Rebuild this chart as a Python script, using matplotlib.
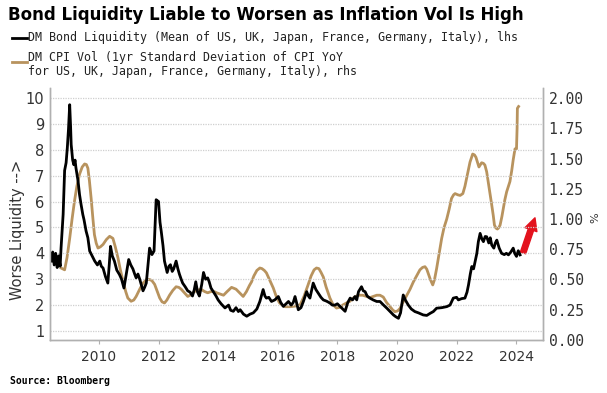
import matplotlib
matplotlib.use('Agg')
import matplotlib.pyplot as plt

# DM bond liquidity (lhs)
liq_years = [2008.40, 2008.45, 2008.50, 2008.55, 2008.60, 2008.65, 2008.70, 2008.73, 2008.80, 2008.85,
             2008.90, 2008.94, 2008.98, 2009.02, 2009.05, 2009.07, 2009.12, 2009.16, 2009.20, 2009.23,
             2009.30, 2009.35, 2009.40, 2009.46, 2009.50, 2009.57, 2009.63, 2009.69, 2009.75, 2009.86,
             2009.95, 2010.03, 2010.08, 2010.14, 2010.22, 2010.30, 2010.35, 2010.39, 2010.45, 2010.52,
             2010.60, 2010.69, 2010.76, 2010.84, 2010.92, 2011.00, 2011.07, 2011.14, 2011.20, 2011.25,
             2011.31, 2011.37, 2011.43, 2011.48, 2011.54, 2011.59, 2011.65, 2011.70, 2011.78, 2011.85,
             2011.92, 2012.00, 2012.05, 2012.09, 2012.15, 2012.20, 2012.25, 2012.29, 2012.35, 2012.40,
             2012.46, 2012.51, 2012.59, 2012.65, 2012.70, 2012.76, 2012.81, 2012.90, 2012.98, 2013.06,
             2013.14, 2013.20, 2013.25, 2013.31, 2013.37, 2013.45, 2013.51, 2013.58, 2013.65, 2013.70,
             2013.76, 2013.85, 2013.93, 2014.00, 2014.10, 2014.23, 2014.35, 2014.42, 2014.51, 2014.60,
             2014.68, 2014.74, 2014.85, 2014.96, 2015.07, 2015.18, 2015.30, 2015.40, 2015.51, 2015.57,
             2015.62, 2015.70, 2015.79, 2015.90, 2016.02, 2016.10, 2016.19, 2016.28, 2016.36, 2016.45,
             2016.52, 2016.58, 2016.64, 2016.69, 2016.78, 2016.86, 2016.97, 2017.03, 2017.08, 2017.19,
             2017.28, 2017.36, 2017.45, 2017.53, 2017.64, 2017.75, 2017.83, 2017.92, 2018.00, 2018.09,
             2018.18, 2018.26, 2018.35, 2018.43, 2018.51, 2018.59, 2018.65, 2018.71, 2018.81, 2018.87,
             2018.93, 2019.00, 2019.09, 2019.20, 2019.32, 2019.43, 2019.55, 2019.66, 2019.77, 2019.88,
             2019.96, 2020.05, 2020.12, 2020.21, 2020.28, 2020.38, 2020.48, 2020.60, 2020.72, 2020.88,
             2021.00, 2021.11, 2021.22, 2021.33, 2021.50, 2021.67, 2021.78, 2021.89, 2022.00, 2022.06,
             2022.17, 2022.28, 2022.35, 2022.40, 2022.46, 2022.51, 2022.57, 2022.62, 2022.68, 2022.73,
             2022.79, 2022.85, 2022.90, 2022.96, 2023.01, 2023.08, 2023.13, 2023.18, 2023.25, 2023.30,
             2023.35, 2023.43, 2023.51, 2023.60, 2023.67, 2023.74, 2023.82, 2023.90, 2023.95, 2024.01,
             2024.07, 2024.13]
liq_vals = [3.70, 4.05, 3.55, 4.00, 3.45, 3.90, 3.50, 4.20, 5.50, 7.20,
            7.50, 8.07, 8.80, 9.74, 8.90, 8.20, 7.60, 7.42, 7.60, 7.30,
            6.80, 6.27, 5.90, 5.50, 5.30, 4.86, 4.60, 4.09, 3.95, 3.70,
            3.55, 3.70, 3.50, 3.43, 3.10, 2.85, 3.60, 4.27, 3.90, 3.70,
            3.35, 3.18, 3.00, 2.66, 3.20, 3.76, 3.55, 3.40, 3.20, 3.05,
            3.20, 3.00, 2.75, 2.55, 2.70, 2.85, 3.60, 4.20, 3.95, 4.09,
            6.07, 6.00, 5.20, 4.86, 4.30, 3.70, 3.45, 3.26, 3.50, 3.56,
            3.30, 3.40, 3.70, 3.40, 3.20, 3.00, 2.85, 2.70, 2.55, 2.50,
            2.35, 2.60, 2.90, 2.50, 2.35, 2.80, 3.26, 3.00, 3.05, 2.90,
            2.66, 2.50, 2.35, 2.20, 2.05, 1.89, 2.00, 1.80, 1.76, 1.90,
            1.75, 1.82, 1.65, 1.57, 1.65, 1.70, 1.85, 2.14, 2.60, 2.35,
            2.27, 2.30, 2.14, 2.20, 2.33, 2.10, 1.95, 2.05, 2.14, 2.00,
            2.10, 2.33, 2.05, 1.82, 1.90, 2.14, 2.52, 2.35, 2.27, 2.85,
            2.60, 2.46, 2.30, 2.20, 2.15, 2.08, 2.00, 2.00, 2.05, 1.95,
            1.85, 1.76, 2.10, 2.27, 2.20, 2.33, 2.20, 2.52, 2.71, 2.55,
            2.52, 2.35, 2.27, 2.20, 2.14, 2.14, 2.00, 1.88, 1.75, 1.62,
            1.55, 1.49, 1.70, 2.39, 2.20, 2.00, 1.85, 1.75, 1.70, 1.62,
            1.60, 1.68, 1.75, 1.88, 1.90, 1.94, 2.00, 2.27, 2.30, 2.20,
            2.25, 2.27, 2.50, 2.78, 3.20, 3.49, 3.40, 3.68, 4.00, 4.45,
            4.77, 4.55, 4.45, 4.65, 4.64, 4.40, 4.60, 4.32, 4.20, 4.40,
            4.51, 4.20, 4.00, 3.95, 4.00, 3.94, 4.05, 4.20, 4.00, 3.88,
            4.10, 3.94]

# DM CPI vol (rhs, %)
vol_years = [2008.73, 2008.85, 2008.93, 2009.02, 2009.10, 2009.18, 2009.26, 2009.35, 2009.44, 2009.52,
             2009.58, 2009.63, 2009.68, 2009.74, 2009.80, 2009.85, 2009.91, 2009.97, 2010.05, 2010.14,
             2010.25, 2010.36, 2010.47, 2010.55, 2010.64, 2010.72, 2010.81, 2010.90, 2010.97, 2011.08,
             2011.17, 2011.25, 2011.37, 2011.48, 2011.60, 2011.70, 2011.78, 2011.87, 2011.96, 2012.04,
             2012.12, 2012.20, 2012.28, 2012.37, 2012.48, 2012.59, 2012.68, 2012.76, 2012.87, 2012.98,
             2013.10, 2013.20, 2013.31, 2013.42, 2013.55, 2013.65, 2013.76, 2013.87, 2013.95, 2014.06,
             2014.18, 2014.30, 2014.45, 2014.60, 2014.72, 2014.84, 2014.95, 2015.05, 2015.12, 2015.20,
             2015.30, 2015.40, 2015.47, 2015.55, 2015.62, 2015.72, 2015.85, 2015.95, 2016.05, 2016.13,
             2016.25, 2016.41, 2016.58, 2016.75, 2016.88, 2017.02, 2017.12, 2017.22, 2017.30, 2017.38,
             2017.45, 2017.53, 2017.62, 2017.75, 2017.86, 2017.97, 2018.08, 2018.19, 2018.30, 2018.42,
             2018.55, 2018.70, 2018.85, 2018.98, 2019.09, 2019.20, 2019.32, 2019.43, 2019.54, 2019.65,
             2019.77, 2019.85, 2019.93, 2020.02, 2020.10, 2020.20, 2020.33, 2020.44, 2020.55, 2020.66,
             2020.77, 2020.86, 2020.94, 2021.00, 2021.05, 2021.12, 2021.20, 2021.26, 2021.33, 2021.42,
             2021.50, 2021.58, 2021.67, 2021.75, 2021.83, 2021.90, 2021.95, 2022.04, 2022.12, 2022.21,
             2022.28, 2022.34, 2022.40, 2022.45, 2022.54, 2022.60, 2022.65, 2022.70, 2022.75, 2022.80,
             2022.84, 2022.90, 2022.95, 2023.01, 2023.06, 2023.12, 2023.18, 2023.23, 2023.27, 2023.32,
             2023.37, 2023.42, 2023.46, 2023.52, 2023.57, 2023.62, 2023.68, 2023.74, 2023.79, 2023.85,
             2023.90, 2023.96, 2024.01, 2024.03, 2024.04, 2024.08]
vol_vals = [0.595, 0.58, 0.68, 0.84, 1.00, 1.146, 1.27, 1.37, 1.43, 1.455,
            1.45, 1.42, 1.32, 1.17, 1.00, 0.87, 0.80, 0.76, 0.77, 0.79,
            0.83, 0.857, 0.84, 0.77, 0.678, 0.58, 0.485, 0.40, 0.347, 0.32,
            0.33, 0.36, 0.42, 0.47, 0.50, 0.50, 0.49, 0.46, 0.40, 0.347,
            0.315, 0.306, 0.33, 0.37, 0.41, 0.44, 0.435, 0.42, 0.39, 0.36,
            0.375, 0.40, 0.41, 0.42, 0.40, 0.39, 0.40, 0.40, 0.39, 0.38,
            0.37, 0.40, 0.435, 0.42, 0.39, 0.36, 0.40, 0.45, 0.48, 0.53,
            0.575, 0.595, 0.59, 0.575, 0.555, 0.50, 0.43, 0.36, 0.31, 0.29,
            0.275, 0.275, 0.28, 0.29, 0.36, 0.457, 0.53, 0.58, 0.595, 0.59,
            0.56, 0.52, 0.44, 0.347, 0.29, 0.264, 0.27, 0.29, 0.305, 0.32,
            0.35, 0.37, 0.37, 0.36, 0.35, 0.36, 0.37, 0.37, 0.355, 0.31,
            0.275, 0.25, 0.234, 0.24, 0.26, 0.31, 0.37, 0.42, 0.48, 0.53,
            0.58, 0.60, 0.606, 0.585, 0.55, 0.50, 0.455, 0.50, 0.59, 0.72,
            0.84, 0.93, 1.00, 1.08, 1.17, 1.20, 1.21, 1.20, 1.195, 1.21,
            1.27, 1.34, 1.41, 1.47, 1.537, 1.53, 1.51, 1.47, 1.43, 1.45,
            1.465, 1.46, 1.446, 1.39, 1.31, 1.21, 1.115, 1.03, 0.95, 0.925,
            0.917, 0.93, 0.95, 1.02, 1.09, 1.16, 1.225, 1.27, 1.31, 1.40,
            1.49, 1.58, 1.58, 1.75, 1.915, 1.93]

year_ticks = [2010, 2012, 2014, 2016, 2018, 2020, 2022, 2024]
left_ticks = [1, 2, 3, 4, 5, 6, 7, 8, 9, 10]
right_ticks = [0.0, 0.25, 0.5, 0.75, 1.0, 1.25, 1.5, 1.75, 2.0]

tan = '#b8935e'
spine_col = '#b0b0b0'

fig = plt.figure(figsize=(6.07, 3.93), dpi=100)
ax = fig.add_axes([0.0824, 0.1349, 0.8122, 0.6412])
ax2 = ax.twinx()
# black line on top of the tan one
ax.set_zorder(ax2.get_zorder() + 1)
ax.patch.set_visible(False)

ax2.plot(vol_years, vol_vals, color=tan, lw=2.0, solid_joinstyle='round')
ax.plot(liq_years, liq_vals, color='black', lw=2.0, solid_joinstyle='round')

ax.set_xlim(2008.36, 2024.9)
ax.set_ylim(0.652, 10.386)
ax2.set_ylim(0, 2.083)

ax.set_xticks(year_ticks)
ax.set_yticks(left_ticks)
ax2.set_yticks(right_ticks)
ax2.set_yticklabels(['%.2f' % v for v in right_ticks])

ax.grid(axis='y', color='#cfcfcf', linestyle=(0, (1, 1)), lw=0.9)
ax.grid(axis='x', visible=False)

for a in (ax, ax2):
    a.spines['top'].set_visible(False)
    for s in ('left', 'right', 'bottom'):
        a.spines[s].set_color(spine_col)
        a.spines[s].set_linewidth(1.0)

ax.tick_params(axis='x', length=3, color=spine_col, pad=4, labelsize=10, labelcolor='#333333')
ax.tick_params(axis='y', length=0, pad=4, labelsize=10.5, labelcolor='#333333')
ax2.tick_params(axis='y', length=0, pad=4, labelsize=10.5, labelcolor='#333333')
for lab in ax2.get_yticklabels():
    lab.set_family('DejaVu Sans Mono')

fig.text(18 / 607, 1 - 230 / 393, 'Worse Liquidity -->', rotation=90,
         ha='center', va='center', fontsize=10.5, color='#333333')
fig.text(595 / 607, 1 - 218 / 393, '%', rotation=90,
         ha='center', va='center', fontsize=8, color='#333333')

# red arrow
ax2.annotate('', xy=(2024.63, 1.01), xytext=(2024.23, 0.72),
             arrowprops=dict(arrowstyle='simple,head_length=0.45,head_width=0.45,tail_width=0.2',
                             color='#e3121d', mutation_scale=20, shrinkA=0, shrinkB=0))

# title, legend, source
fig.text(8 / 607, 1 - 15 / 393, 'Bond Liquidity Liable to Worsen as Inflation Vol Is High',
         fontsize=12, fontweight='bold', ha='left', va='center')
fig.lines.append(plt.Line2D([12 / 607, 27 / 607], [1 - 38 / 393, 1 - 38 / 393],
                            transform=fig.transFigure, color='black', lw=2))
fig.lines.append(plt.Line2D([12 / 607, 27 / 607], [1 - 62 / 393, 1 - 62 / 393],
                            transform=fig.transFigure, color=tan, lw=2))
fig.text(28 / 607, 1 - 38 / 393, 'DM Bond Liquidity (Mean of US, UK, Japan, France, Germany, Italy), lhs',
         family='DejaVu Sans Mono', fontsize=8.4, ha='left', va='center', color='#222222')
fig.text(28 / 607, 1 - 57 / 393, 'DM CPI Vol (1yr Standard Deviation of CPI YoY',
         family='DejaVu Sans Mono', fontsize=8.4, ha='left', va='center', color='#222222')
fig.text(28 / 607, 1 - 71 / 393, 'for US, UK, Japan, France, Germany, Italy), rhs',
         family='DejaVu Sans Mono', fontsize=8.4, ha='left', va='center', color='#222222')
fig.text(10 / 607, 1 - 381 / 393, 'Source: Bloomberg', fontsize=7, fontweight='bold',
         family='DejaVu Sans Mono', ha='left', va='center')

fig.savefig('out.png', dpi=100)
